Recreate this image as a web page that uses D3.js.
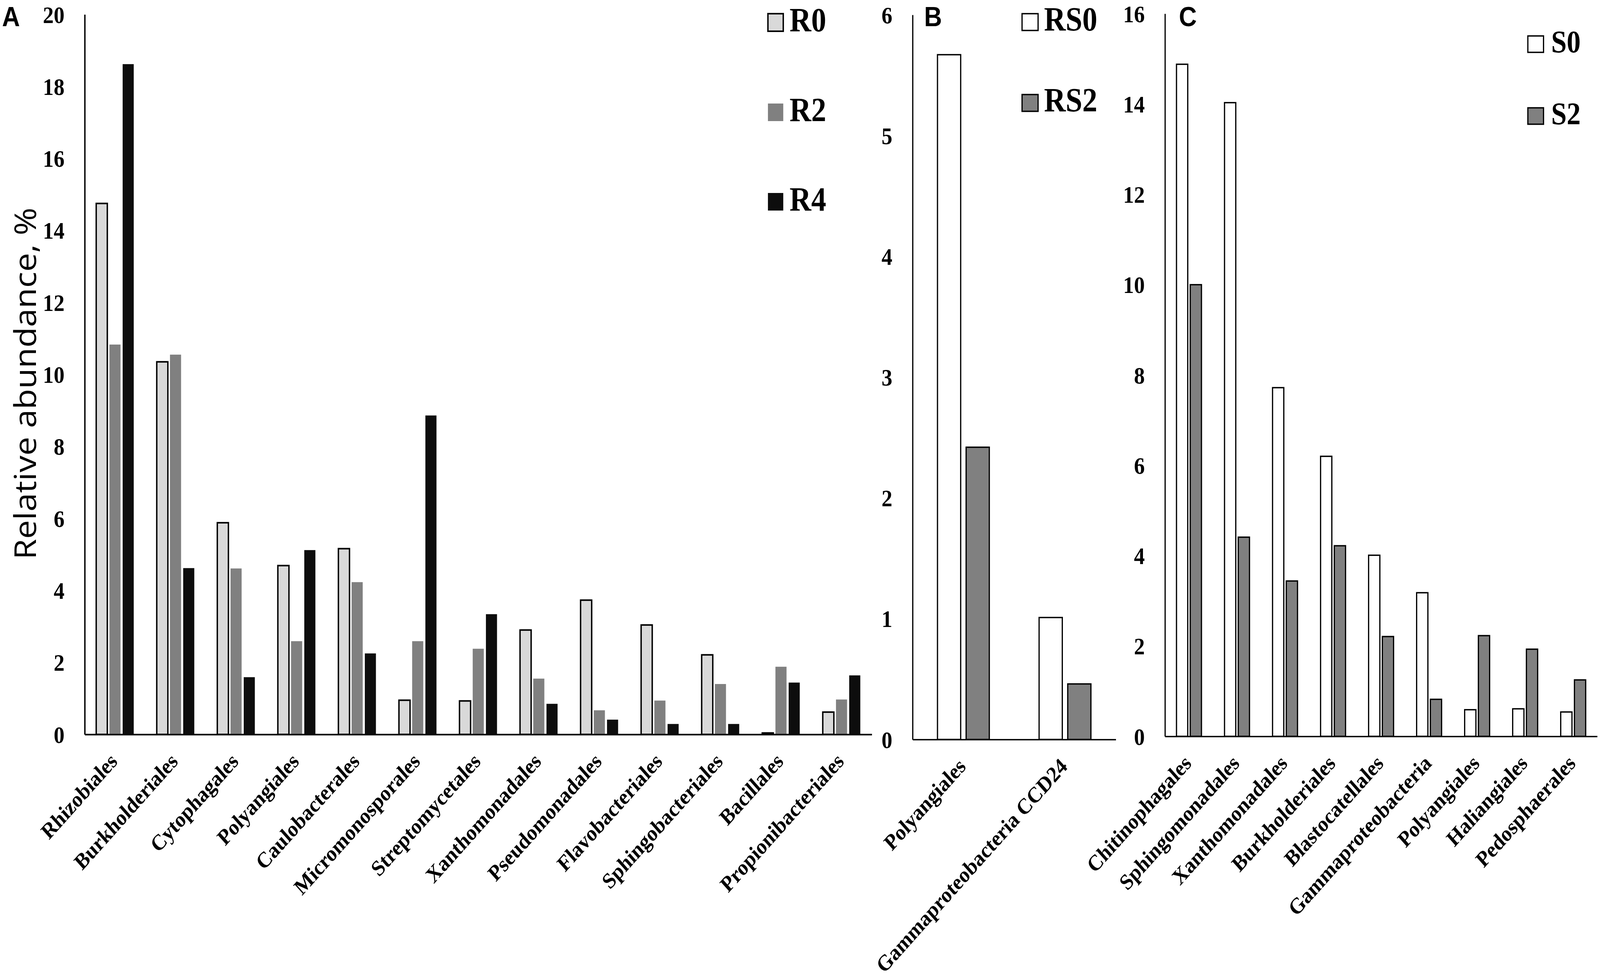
<!DOCTYPE html>
<html>
<head>
<meta charset="utf-8">
<script src="https://cdn.jsdelivr.net/npm/d3@7/dist/d3.min.js"></script>
<style>
  html, body { margin: 0; padding: 0; background: #ffffff; overflow: hidden; }
  svg { display: block; width: 100vw; height: 100vh; }
</style>
</head>
<body>
<svg id="chart" viewBox="0 0 4590 2501" preserveAspectRatio="none"></svg>
<script>
// ---------------- DATA ----------------
const catsA = ["Rhizobiales", "Burkholderiales", "Cytophagales", "Polyangiales", "Caulobacterales",
  "Micromonosporales", "Streptomycetales", "Xanthomonadales", "Pseudomonadales", "Flavobacteriales",
  "Sphingobacteriales", "Bacillales", "Propionibacteriales"];
const seriesA = ["R0", "R2", "R4"];
const valuesR0 = [14.75, 10.35, 5.88, 4.69, 5.16, 0.95, 0.93, 2.90, 3.73, 3.04, 2.21, 0.04, 0.62];
const valuesR2 = [10.83, 10.55, 4.61, 2.59, 4.23, 2.59, 2.38, 1.55, 0.67, 0.94, 1.40, 1.88, 0.97];
const valuesR4 = [18.62, 4.62, 1.59, 5.12, 2.25, 8.86, 3.34, 0.85, 0.41, 0.29, 0.29, 1.44, 1.64];
const ticksA = [0, 2, 4, 6, 8, 10, 12, 14, 16, 18, 20];

const catsB = ["Polyangiales", "Gammaproteobacteria CCD24"];
const seriesB = ["RS0", "RS2"];
const valuesRS0 = [5.67, 1.01];
const valuesRS2 = [2.42, 0.46];
const ticksB = [0, 1, 2, 3, 4, 5, 6];

const catsC = ["Chitinophagales", "Sphingomonadales", "Xanthomonadales", "Burkholderiales",
  "Blastocatellales", "Gammaproteobacteria", "Polyangiales", "Haliangiales", "Pedosphaerales"];
const seriesC = ["S0", "S2"];
const valuesS0 = [14.88, 14.03, 7.72, 6.20, 4.01, 3.18, 0.59, 0.61, 0.54];
const valuesS2 = [10.00, 4.41, 3.44, 4.22, 2.21, 0.82, 2.23, 1.93, 1.25];
const ticksC = [0, 2, 4, 6, 8, 10, 12, 14, 16];

const yTitle = "Relative abundance, %";

// ---------------- LAYOUT / STYLE ----------------
const svg = d3.select("#chart");
const SERIF = "'Liberation Serif', 'Times New Roman', serif";
const SANS = "'Liberation Sans', Arial, sans-serif";

const panels = [
  {
    letter: "A", letterX: 6, letterY: 67,
    cats: catsA, series: seriesA, values: [valuesR0, valuesR2, valuesR4], ticks: ticksA,
    x0: 243, x1: 2501, y0: 1880, yTop: 37, max: 20,
    outerPad: 0.38, innerPad: 0.16,
    fills: ["#d9d9d9", "#808080", "#0d0d0d"],
    strokes: ["#000", "none", "none"], strokeW: 4, axisW: 4,
    legend: { x: 2203, w: 44, h: 45, tops: [35, 265, 494], textX: 2265, size: 86 }
  },
  {
    letter: "B", letterX: 2651, letterY: 67,
    cats: catsB, series: seriesB, values: [valuesRS0, valuesRS2], ticks: ticksB,
    x0: 2618, x1: 3201, y0: 1893, yTop: 38, max: 6,
    outerPad: 0.49, innerPad: 0.19,
    fills: ["#ffffff", "#808080"],
    strokes: ["#000", "#000"], strokeW: 3.5, axisW: 3.5,
    legend: { x: 2932, w: 46, h: 43, tops: [35, 242], textX: 2995, size: 86 }
  },
  {
    letter: "C", letterX: 3382, letterY: 67,
    cats: catsC, series: seriesC, values: [valuesS0, valuesS2], ticks: ticksC,
    x0: 3342, x1: 4582, y0: 1885, yTop: 35, max: 16,
    outerPad: 0.48, innerPad: 0.18,
    fills: ["#ffffff", "#808080"],
    strokes: ["#000", "#000"], strokeW: 3.5, axisW: 3.5,
    legend: { x: 4383, w: 45, h: 42, tops: [92, 276], textX: 4450, size: 80 }
  }
];

panels.forEach(p => {
  const g = svg.append("g");
  const x = d3.scaleBand().domain(p.cats).range([p.x0, p.x1])
    .paddingInner(p.outerPad).paddingOuter(p.outerPad / 2);
  const xs = d3.scaleBand().domain(p.series).range([0, x.bandwidth()])
    .paddingInner(p.innerPad).paddingOuter(0);
  const y = d3.scaleLinear().domain([0, p.max]).range([p.y0, p.yTop]);

  // bars
  p.series.forEach((s, si) => {
    g.append("g").selectAll("rect")
      .data(p.cats.map((c, ci) => ({ c, v: p.values[si][ci] })))
      .join("rect")
      .attr("x", d => x(d.c) + xs(s))
      .attr("width", xs.bandwidth())
      .attr("y", d => y(d.v))
      .attr("height", d => y(0) - y(d.v))
      .attr("fill", p.fills[si])
      .attr("stroke", p.strokes[si])
      .attr("stroke-width", p.strokes[si] === "none" ? 0 : p.strokeW);
  });

  // y axis
  const ya = g.append("g").attr("transform", `translate(${p.x0},0)`)
    .call(d3.axisLeft(y).tickValues(p.ticks).tickSize(0).tickSizeOuter(0).tickPadding(58)
      .tickFormat(d3.format("d")));
  ya.select(".domain").attr("stroke", "#000").attr("stroke-width", p.axisW);
  ya.selectAll("text").attr("font-family", SERIF).attr("font-weight", "bold")
    .attr("font-size", 62).attr("fill", "#000").attr("dy", "0.34em");

  // x axis
  const xa = g.append("g").attr("transform", `translate(0,${p.y0})`)
    .call(d3.axisBottom(x).tickSize(0).tickSizeOuter(0));
  xa.select(".domain").attr("stroke", "#000").attr("stroke-width", p.axisW);
  xa.selectAll("text")
    .attr("x", 0).attr("y", 0).attr("dy", 0)
    .attr("text-anchor", "end")
    .attr("transform", "translate(10,72) rotate(-45)")
    .attr("font-family", SERIF).attr("font-weight", "bold")
    .attr("font-size", 57).attr("fill", "#000");

  // panel letter
  svg.append("text").attr("x", p.letterX).attr("y", p.letterY)
    .attr("font-family", SANS).attr("font-weight", "bold").attr("font-size", 71)
    .attr("fill", "#000").text(p.letter);

  // legend
  const L = p.legend;
  p.series.forEach((s, si) => {
    svg.append("rect").attr("x", L.x).attr("y", L.tops[si]).attr("width", L.w).attr("height", L.h)
      .attr("fill", p.fills[si])
      .attr("stroke", p.strokes[si])
      .attr("stroke-width", p.strokes[si] === "none" ? 0 : p.strokeW);
    svg.append("text").attr("x", L.textX).attr("y", L.tops[si] + L.h)
      .attr("font-family", SERIF).attr("font-weight", "bold").attr("font-size", L.size)
      .attr("fill", "#000").text(s);
  });
});

// y title
svg.append("text")
  .attr("transform", "translate(103,982) rotate(-90)")
  .attr("text-anchor", "middle")
  .attr("font-family", "'Open Sans', 'Noto Sans', sans-serif")
  .attr("font-size", 86).attr("fill", "#000")
  .text(yTitle);
</script>
</body>
</html>
